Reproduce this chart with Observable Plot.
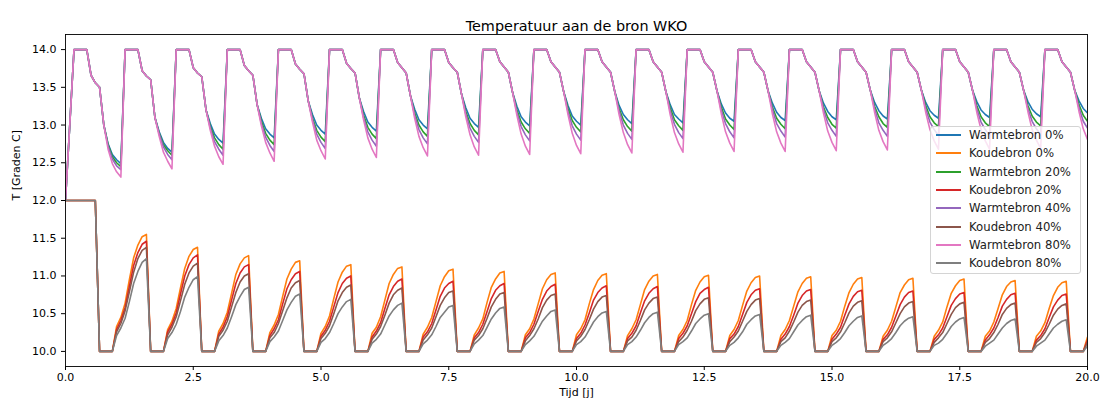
<!DOCTYPE html>
<html><head><meta charset="utf-8">
<script src="https://cdn.jsdelivr.net/npm/d3@7"></script>
<script src="https://cdn.jsdelivr.net/npm/@observablehq/plot@0.6"></script>
<style>
body{margin:0;background:#fff;}
#wrap{position:relative;width:1101px;height:403px;font-family:"DejaVu Sans",sans-serif;}
#legend{position:absolute;left:930px;top:126px;width:151px;height:148px;box-sizing:border-box;background:rgba(255,255,255,0.8);border:1px solid #d4d4d4;border-radius:3px;}
.row{position:absolute;left:0;height:18px;line-height:18px;font-size:11.7px;color:#222;white-space:nowrap;}
.sw{position:absolute;left:5px;top:8px;width:25px;height:2px;}
.lb{position:absolute;left:38px;top:0;}
</style></head>
<body><div id="wrap"><div id="chart"></div><div id="legend"></div></div>
<script>
const title = "Temperatuur aan de bron WKO";
const xLabel = "Tijd [j]";
const yLabel = "T [Graden C]";
const names = ["Warmtebron 0%","Koudebron 0%","Warmtebron 20%","Koudebron 20%","Warmtebron 40%","Koudebron 40%","Warmtebron 80%","Koudebron 80%"];
const colors = ["#1f77b4","#ff7f0e","#2ca02c","#d62728","#9467bd","#8c564b","#e377c2","#7f7f7f"];
const xTicks = [0,2.5,5,7.5,10,12.5,15,17.5,20];
const yTicks = [10,10.5,11,11.5,12,12.5,13,13.5,14];
const years = 20;
const stepsPerYear = 12;

// warm sources: months 0,1 of the first year
const warmStart = [12, 13.0];
// warm sources: months 2..9 of each year (shared by all warm series)
const warmShape = [
 [14,14,14,14,13.66,13.56,13.50,13.00],
 [14,14,14,14,13.72,13.65,13.60,13.10],
 [14,14,14,14,13.76,13.69,13.64,13.20],
 [14,14,14,14,13.79,13.72,13.66,13.27],
 [14,14,14,14,13.81,13.74,13.68,13.32],
 [14,14,14,14,13.82,13.75,13.69,13.36],
 [14,14,14,14,13.83,13.76,13.69,13.39],
 [14,14,14,14,13.83,13.76,13.70,13.41],
 [14,14,14,14,13.84,13.77,13.70,13.43],
 [14,14,14,14,13.84,13.77,13.70,13.44],
 [14,14,14,14,13.84,13.77,13.70,13.44],
 [14,14,14,14,13.84,13.77,13.70,13.44],
 [14,14,14,14,13.84,13.77,13.70,13.45],
 [14,14,14,14,13.84,13.77,13.70,13.45],
 [14,14,14,14,13.84,13.77,13.70,13.45],
 [14,14,14,14,13.84,13.77,13.70,13.46],
 [14,14,14,14,13.84,13.77,13.70,13.46],
 [14,14,14,14,13.84,13.77,13.70,13.46],
 [14,14,14,14,13.84,13.77,13.70,13.46],
 [14,14,14,14,13.84,13.77,13.70,13.46]
];
// warm decay: months 10,11 of year k and months 0,1 of year k+1
const warm0 = [
 [12.75,12.61,12.54,12.49],[12.91,12.77,12.69,12.64],[13.02,12.88,12.81,12.76],[13.09,12.95,12.88,12.83],
 [13.14,13.00,12.93,12.88],[13.18,13.04,12.97,12.92],[13.21,13.07,13.00,12.95],[13.23,13.09,13.02,12.97],
 [13.25,13.11,13.04,12.99],[13.26,13.12,13.05,13.00],[13.26,13.14,13.07,13.02],[13.27,13.14,13.08,13.03],
 [13.28,13.16,13.09,13.05],[13.29,13.17,13.10,13.06],[13.29,13.18,13.11,13.07],[13.30,13.19,13.12,13.08],
 [13.30,13.19,13.13,13.09],[13.31,13.20,13.14,13.10],[13.31,13.21,13.15,13.11],[13.32,13.22,13.16]
];
const warm20 = [
 [12.74,12.58,12.50,12.45],[12.89,12.74,12.66,12.60],[12.98,12.83,12.74,12.68],[13.05,12.89,12.80,12.74],
 [13.09,12.93,12.84,12.78],[13.13,12.97,12.88,12.82],[13.16,13.00,12.91,12.85],[13.18,13.02,12.93,12.87],
 [13.20,13.04,12.95,12.89],[13.22,13.06,12.97,12.91],[13.22,13.07,12.98,12.92],[13.23,13.07,12.99,12.93],
 [13.24,13.08,13.00,12.94],[13.24,13.09,13.01,12.95],[13.24,13.10,13.01,12.96],[13.25,13.11,13.02,12.97],
 [13.26,13.11,13.03,12.98],[13.26,13.11,13.03,12.98],[13.26,13.12,13.04,12.99],[13.27,13.13,13.05]
];
const warm40 = [
 [12.72,12.55,12.46,12.41],[12.88,12.71,12.61,12.54],[12.96,12.78,12.68,12.60],[13.02,12.84,12.73,12.65],
 [13.07,12.88,12.77,12.69],[13.10,12.91,12.80,12.72],[13.13,12.94,12.83,12.75],[13.15,12.96,12.85,12.77],
 [13.17,12.98,12.87,12.79],[13.18,12.99,12.88,12.80],[13.19,13.00,12.89,12.81],[13.19,13.01,12.90,12.82],
 [13.20,13.02,12.91,12.83],[13.21,13.02,12.92,12.84],[13.21,13.03,12.93,12.85],[13.22,13.03,12.93,12.85],
 [13.22,13.04,12.94,12.86],[13.22,13.04,12.94,12.86],[13.22,13.05,12.95,12.87],[13.23,13.05,12.96]
];
const warm80 = [
 [12.68,12.49,12.38,12.31],[12.85,12.64,12.52,12.42],[12.93,12.72,12.58,12.48],[12.99,12.77,12.63,12.52],
 [13.04,12.80,12.66,12.55],[13.07,12.83,12.68,12.57],[13.09,12.85,12.70,12.59],[13.11,12.87,12.71,12.60],
 [13.13,12.88,12.72,12.61],[13.14,12.89,12.73,12.62],[13.14,12.90,12.74,12.63],[13.14,12.90,12.75,12.64],
 [13.15,12.91,12.76,12.65],[13.15,12.91,12.76,12.65],[13.16,12.92,12.77,12.66],[13.17,12.93,12.78,12.67],
 [13.17,12.94,12.79,12.68],[13.17,12.94,12.79,12.68],[13.18,12.94,12.80,12.69],[13.18,12.95,12.81]
];

// cold sources: months 0..7 of the first year, and the flat months 8..11
const coldStart = [12,12,12,12,12,12,12,12];
const coldFloor = [10,10,10,10];
// cold rise: months 0..7 of years 1..19, then month 0 of year 20
const cold0 = [
 [10.33,10.45,10.64,10.95,11.24,11.41,11.52,11.55],[10.29,10.40,10.57,10.84,11.10,11.26,11.35,11.38],
 [10.27,10.37,10.52,10.77,11.02,11.16,11.24,11.27],[10.25,10.35,10.49,10.73,10.96,11.09,11.18,11.20],
 [10.24,10.33,10.47,10.70,10.92,11.05,11.13,11.15],[10.24,10.32,10.46,10.68,10.90,11.02,11.10,11.12],
 [10.23,10.32,10.45,10.66,10.87,10.99,11.07,11.09],[10.22,10.31,10.43,10.65,10.85,10.96,11.04,11.06],
 [10.22,10.30,10.43,10.63,10.83,10.95,11.02,11.04],[10.22,10.30,10.42,10.63,10.82,10.94,11.01,11.03],
 [10.21,10.30,10.42,10.62,10.82,10.93,11.00,11.02],[10.21,10.29,10.41,10.62,10.81,10.92,10.99,11.01],
 [10.21,10.29,10.41,10.61,10.80,10.91,10.98,11.00],[10.21,10.29,10.41,10.60,10.79,10.90,10.97,10.99],
 [10.21,10.28,10.40,10.60,10.78,10.89,10.96,10.98],[10.20,10.28,10.40,10.59,10.78,10.88,10.95,10.97],
 [10.20,10.28,10.39,10.59,10.77,10.87,10.94,10.96],[10.20,10.27,10.39,10.57,10.75,10.86,10.92,10.94],
 [10.20,10.27,10.38,10.57,10.74,10.85,10.91,10.93],[10.19]
];
const cold20 = [
 [10.29,10.41,10.58,10.86,11.14,11.31,11.42,11.46],[10.26,10.36,10.51,10.76,11.00,11.15,11.24,11.28],
 [10.23,10.32,10.46,10.68,10.90,11.04,11.12,11.15],[10.21,10.30,10.42,10.63,10.83,10.95,11.03,11.06],
 [10.20,10.28,10.40,10.59,10.78,10.90,10.97,11.00],[10.19,10.27,10.38,10.57,10.75,10.86,10.93,10.96],
 [10.19,10.26,10.37,10.55,10.73,10.84,10.90,10.93],[10.18,10.25,10.36,10.53,10.70,10.81,10.87,10.90],
 [10.18,10.25,10.36,10.53,10.69,10.80,10.86,10.89],[10.17,10.24,10.35,10.51,10.68,10.78,10.84,10.87],
 [10.17,10.24,10.34,10.51,10.67,10.77,10.83,10.86],[10.17,10.24,10.34,10.50,10.66,10.77,10.82,10.85],
 [10.17,10.23,10.33,10.49,10.65,10.75,10.81,10.83],[10.16,10.23,10.33,10.48,10.64,10.74,10.80,10.82],
 [10.16,10.23,10.32,10.48,10.63,10.73,10.79,10.81],[10.16,10.22,10.32,10.47,10.62,10.72,10.78,10.80],
 [10.16,10.22,10.31,10.46,10.61,10.70,10.76,10.78],[10.15,10.22,10.31,10.45,10.60,10.69,10.75,10.77],
 [10.15,10.21,10.30,10.45,10.59,10.68,10.74,10.76],[10.15]
];
const cold40 = [
 [10.26,10.37,10.54,10.79,11.05,11.23,11.34,11.38],[10.22,10.32,10.46,10.67,10.89,11.04,11.13,11.17],
 [10.20,10.28,10.40,10.59,10.78,10.92,11.00,11.03],[10.18,10.25,10.37,10.54,10.71,10.84,10.91,10.94],
 [10.17,10.24,10.34,10.50,10.67,10.78,10.85,10.88],[10.16,10.23,10.33,10.48,10.64,10.75,10.81,10.84],
 [10.15,10.22,10.31,10.46,10.61,10.71,10.78,10.80],[10.15,10.21,10.30,10.44,10.59,10.69,10.76,10.78],
 [10.14,10.21,10.30,10.43,10.58,10.68,10.74,10.76],[10.14,10.20,10.29,10.42,10.56,10.66,10.72,10.74],
 [10.14,10.19,10.28,10.41,10.55,10.64,10.70,10.72],[10.13,10.19,10.28,10.40,10.54,10.63,10.69,10.71],
 [10.13,10.19,10.27,10.40,10.53,10.62,10.68,10.70],[10.13,10.18,10.27,10.39,10.52,10.61,10.66,10.68],
 [10.13,10.18,10.26,10.38,10.51,10.60,10.65,10.67],[10.13,10.18,10.26,10.38,10.50,10.59,10.64,10.66],
 [10.12,10.18,10.25,10.37,10.49,10.58,10.63,10.65],[10.12,10.17,10.25,10.36,10.49,10.57,10.62,10.64],
 [10.12,10.17,10.25,10.36,10.48,10.56,10.61,10.63],[10.12]
];
const cold80 = [
 [10.21,10.31,10.44,10.66,10.90,11.06,11.18,11.23],[10.17,10.25,10.36,10.53,10.72,10.85,10.95,10.99],
 [10.14,10.21,10.31,10.46,10.62,10.73,10.82,10.85],[10.13,10.19,10.27,10.41,10.55,10.65,10.73,10.76],
 [10.12,10.17,10.25,10.37,10.50,10.59,10.66,10.69],[10.11,10.16,10.23,10.35,10.47,10.55,10.61,10.64],
 [10.10,10.15,10.22,10.33,10.45,10.52,10.59,10.61],[10.10,10.15,10.21,10.32,10.43,10.51,10.57,10.59],
 [10.09,10.14,10.20,10.30,10.40,10.47,10.53,10.55],[10.09,10.13,10.19,10.29,10.39,10.46,10.51,10.53],
 [10.09,10.13,10.19,10.28,10.38,10.45,10.50,10.52],[10.09,10.13,10.18,10.27,10.37,10.43,10.48,10.50],
 [10.08,10.12,10.18,10.26,10.36,10.42,10.47,10.49],[10.08,10.12,10.17,10.26,10.35,10.41,10.46,10.48],
 [10.08,10.12,10.17,10.25,10.34,10.40,10.45,10.47],[10.08,10.12,10.17,10.25,10.34,10.40,10.44,10.46],
 [10.08,10.11,10.16,10.24,10.33,10.39,10.43,10.45],[10.07,10.11,10.15,10.23,10.31,10.37,10.41,10.43],
 [10.07,10.11,10.15,10.23,10.31,10.36,10.40,10.42],[10.07]
];

function buildWarm(decay) {
  const v = [];
  for (let k = 0; k < years; k++) {
    if (k === 0) v.push(...warmStart); else v.push(decay[k-1][2], decay[k-1][3]);
    v.push(...warmShape[k]);
    v.push(decay[k][0], decay[k][1]);
  }
  v.push(decay[years-1][2]);
  return v;
}
function buildCold(rise) {
  const v = [];
  for (let k = 0; k < years; k++) {
    v.push(...(k === 0 ? coldStart : rise[k-1]));
    v.push(...coldFloor);
  }
  v.push(rise[years-1][0]);
  return v;
}
const seriesValues = [buildWarm(warm0), buildCold(cold0), buildWarm(warm20), buildCold(cold20),
                      buildWarm(warm40), buildCold(cold40), buildWarm(warm80), buildCold(cold80)];
const rows = [];
names.forEach((name, s) => seriesValues[s].forEach((v, i) => rows.push({name, t: i / stepsPerYear, v})));

const chart = Plot.plot({
  width: 1101, height: 403,
  marginLeft: 65, marginRight: 14, marginTop: 34, marginBottom: 37,
  style: {fontFamily: "DejaVu Sans, sans-serif", fontSize: "11px", color: "#000", background: "#fff", overflow: "visible"},
  x: {domain: [0, 20]},
  y: {domain: [9.8, 14.2]},
  color: {domain: names, range: colors},
  marks: [
    Plot.line(rows, {x: "t", y: "v", z: "name", stroke: "name", strokeWidth: 1.6, clip: true}),
    Plot.frame({stroke: "#000", strokeWidth: 0.9}),
    Plot.axisX({ticks: xTicks, tickFormat: d3.format(".1f"), tickSize: 4, tickPadding: 3, label: null, fontSize: 11}),
    Plot.axisY({ticks: yTicks, tickFormat: d3.format(".1f"), tickSize: 4, tickPadding: 5, label: null, fontSize: 11}),
    Plot.text([title], {frameAnchor: "top", dy: -14, fontSize: 14.4, fill: "#000"}),
    Plot.text([xLabel], {frameAnchor: "bottom", dy: 29, fontSize: 11, fill: "#000"}),
    Plot.text([yLabel], {frameAnchor: "left", dx: -49, rotate: -90, fontSize: 11, fill: "#000"})
  ]
});
document.getElementById("chart").appendChild(chart);

const legend = document.getElementById("legend");
names.forEach((name, i) => {
  const row = document.createElement("div");
  row.className = "row";
  row.style.top = (-1 + 18.35 * i) + "px";
  row.innerHTML = `<span class="sw" style="background:${colors[i]}"></span><span class="lb">${name}</span>`;
  legend.appendChild(row);
});
</script>
</body></html>
